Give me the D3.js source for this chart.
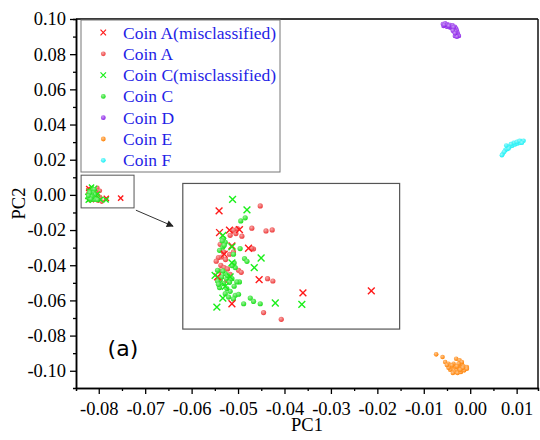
<!DOCTYPE html>
<html>
<head>
<meta charset="utf-8">
<script src="https://cdn.jsdelivr.net/npm/d3@7"></script>
<style>
  html, body { margin: 0; padding: 0; background: #fff; }
  svg { display: block; }
</style>
</head>
<body>
<div id="chart"></div>
<script>
// PCA scatter: coins A-F, inset zoom on the A/C cluster

const xDomain = [-0.0849, 0.0146];
const yDomain = [-0.1098, 0.10];
const xTicks = [-0.08, -0.07, -0.06, -0.05, -0.04, -0.03, -0.02, -0.01, 0, 0.01];
const xMinor = [-0.075, -0.065, -0.055, -0.045, -0.035, -0.025, -0.015, -0.005, 0.005];
const yTicks = [-0.10, -0.08, -0.06, -0.04, -0.02, 0, 0.02, 0.04, 0.06, 0.08, 0.10];
const yMinor = [-0.09, -0.07, -0.05, -0.03, -0.01, 0.01, 0.03, 0.05, 0.07, 0.09];

// [PC1, PC2]
const coinAmis = [
  [-0.08216, 0.00362], [-0.08214, 0.00213], [-0.08169, 0.00229], [-0.08124, 0.00233],
  [-0.08083, 0.00105], [-0.08158, 0.00121], [-0.08035, -0.00110], [-0.07837, -0.00202],
  [-0.07528, -0.00188], [-0.08158, -0.00276], [-0.08223, -0.00092], [-0.08193, 0.00064]
];
const coinA = [
  [-0.08030, 0.00396], [-0.08068, 0.00243], [-0.08004, 0.00224], [-0.07976, 0.00231],
  [-0.08113, 0.00188], [-0.08151, 0.00229], [-0.08140, 0.00206], [-0.08166, 0.00194],
  [-0.08133, 0.00240], [-0.08060, 0.00100], [-0.08069, 0.00105], [-0.08219, 0.00041],
  [-0.08229, 0.00016], [-0.08204, 0.00045], [-0.08187, 0.00027], [-0.08208, -0.00012],
  [-0.08193, -0.00028], [-0.08178, -0.00037], [-0.08128, -0.00046], [-0.08116, -0.00060],
  [-0.07997, -0.00104], [-0.07973, -0.00120], [-0.08015, -0.00337], [-0.07935, -0.00383],
  [-0.08214, -0.00051], [-0.08169, 0.00064], [-0.08151, 0.00080], [-0.08196, 0.00080],
  [-0.08181, -0.00115], [-0.08211, 0.00132], [-0.08166, -0.00074]
];
const coinCmis = [
  [-0.08155, 0.00440], [-0.08090, 0.00369], [-0.08199, 0.00194], [-0.08158, 0.00114],
  [-0.08026, 0.00038], [-0.08057, -0.00028], [-0.08234, -0.00081], [-0.08166, -0.00092],
  [-0.08199, -0.00237], [-0.08226, -0.00299], [-0.07962, -0.00271], [-0.07842, -0.00280],
  [-0.08158, 0.00004], [-0.08188, -0.00156]
];
const coinC = [
  [-0.08118, 0.00293], [-0.08098, 0.00314], [-0.08196, 0.00171], [-0.08188, 0.00146],
  [-0.08199, 0.00114], [-0.08214, 0.00091], [-0.08121, 0.00103], [-0.08151, 0.00064],
  [-0.08101, 0.00034], [-0.08090, 0.00015], [-0.08148, 0.00004], [-0.08143, -0.00028],
  [-0.08158, -0.00014], [-0.08211, -0.00115], [-0.08196, -0.00138], [-0.08181, -0.00106],
  [-0.08204, -0.00092], [-0.08188, -0.00069], [-0.08169, -0.00129], [-0.08148, -0.00156],
  [-0.08124, -0.00126], [-0.08166, -0.00191], [-0.08143, -0.00218], [-0.08128, -0.00211],
  [-0.08151, -0.00243], [-0.08105, -0.00276], [-0.08075, -0.00237], [-0.08060, -0.00260],
  [-0.08030, -0.00276], [-0.08181, -0.00172], [-0.08223, -0.00120], [-0.08214, -0.00165],
  [-0.08199, -0.00051], [-0.08178, -0.00081], [-0.08219, -0.00143], [-0.08202, 0.00156],
  [-0.08193, 0.00126], [-0.08136, -0.00126], [-0.08158, -0.00104], [-0.08188, -0.00207],
  [-0.08173, -0.00230], [-0.08223, -0.00046]
];
const coinD = [
  [-0.00589, 0.09715], [-0.00539, 0.09753], [-0.00489, 0.09697], [-0.00431, 0.09659],
  [-0.00381, 0.09640], [-0.00330, 0.09563], [-0.00302, 0.09450], [-0.00287, 0.09336],
  [-0.00273, 0.09222], [-0.00259, 0.09108], [-0.00244, 0.09032], [-0.00575, 0.09602],
  [-0.00503, 0.09563], [-0.00445, 0.09526], [-0.00395, 0.09469], [-0.00345, 0.09412],
  [-0.00316, 0.09279], [-0.00302, 0.09146], [-0.00330, 0.09032], [-0.00287, 0.08994],
  [-0.00517, 0.09659], [-0.00417, 0.09563], [-0.00359, 0.09526], [-0.00460, 0.09602],
  [-0.00560, 0.09659], [-0.00374, 0.09336], [-0.00330, 0.09184]
];
const coinE = [
  [-0.00733, -0.09067], [-0.00596, -0.09218], [-0.00539, -0.09503], [-0.00467, -0.09598],
  [-0.00431, -0.09750], [-0.00395, -0.09883], [-0.00359, -0.09977], [-0.00323, -0.10072],
  [-0.00287, -0.09939], [-0.00251, -0.09826], [-0.00216, -0.09693], [-0.00180, -0.09598],
  [-0.00144, -0.09750], [-0.00108, -0.09826], [-0.00072, -0.09788], [-0.00302, -0.09313],
  [-0.00230, -0.09408], [-0.00180, -0.09503], [-0.00431, -0.09939], [-0.00374, -0.10129],
  [-0.00273, -0.10129], [-0.00201, -0.10072], [-0.00129, -0.09977], [-0.00072, -0.09883],
  [-0.00323, -0.09750], [-0.00251, -0.09598], [-0.00359, -0.09598], [-0.00395, -0.09693],
  [-0.00158, -0.09826], [-0.00467, -0.09826], [-0.00503, -0.09674], [-0.00216, -0.09939],
  [-0.00287, -0.09750]
];
const coinF = [
  [0.00704, 0.02354], [0.00754, 0.02544], [0.00805, 0.02696], [0.00862, 0.02810],
  [0.00920, 0.02886], [0.00977, 0.02961], [0.01042, 0.03018], [0.01099, 0.03056],
  [0.01149, 0.03075], [0.00733, 0.02449], [0.00790, 0.02601], [0.00848, 0.02734],
  [0.00905, 0.02791], [0.00963, 0.02867], [0.01020, 0.02924], [0.01078, 0.02961],
  [0.00826, 0.02639], [0.00934, 0.02961], [0.01006, 0.03018], [0.01063, 0.03075],
  [0.00776, 0.02810], [0.00682, 0.02259], [0.01114, 0.02961], [0.00876, 0.02886]
];

const seriesNames = ["Coin A(misclassified)", "Coin A", "Coin C(misclassified)", "Coin C", "Coin D", "Coin E", "Coin F"];
const seriesData = [coinAmis, coinA, coinCmis, coinC, coinD, coinE, coinF];
const seriesColors = ["#ff1a1a", "#ee3b3b", "#1aef1a", "#19e019", "#8a1ee8", "#ff8000", "#19f0f5"];
const seriesShapes = ["cross", "dot", "cross", "dot", "dot", "dot", "dot"];

// zoom window (data) and where the inset sits (data units of the main axes)
const zoomBox = [-0.0838, -0.0724, -0.0074, 0.0112];
const insetBox = [-0.0619, -0.0152, -0.0763, 0.0065];
const insetX = [-0.0838, -0.0740];
const insetY = [-0.0045, 0.0055];
const arrowFrom = [-0.0720, -0.0087];
const arrowTo = [-0.0640, -0.0178];
const panelLabel = { text: "(a)", x: -0.0748, y: -0.0918 };

const W = 540, H = 440;
const margin = { top: 19, right: 2, bottom: 52, left: 76 };
const serif = "'Liberation Serif', 'Times New Roman', serif";

const svg = d3.select("#chart").append("svg")
  .attr("width", W).attr("height", H);

const defs = svg.append("defs");
seriesColors.forEach((c, i) => {
  const gr = defs.append("radialGradient")
    .attr("id", "ball" + i)
    .attr("cx", "40%").attr("cy", "35%").attr("r", "65%");
  gr.append("stop").attr("offset", "0%").attr("stop-color", d3.interpolateRgb(c, "#fff")(0.55));
  gr.append("stop").attr("offset", "100%").attr("stop-color", c);
});
defs.append("marker")
  .attr("id", "arrowhead")
  .attr("viewBox", "0 0 10 10")
  .attr("refX", 9).attr("refY", 5)
  .attr("markerWidth", 9).attr("markerHeight", 7)
  .attr("markerUnits", "userSpaceOnUse")
  .attr("orient", "auto")
  .append("path").attr("d", "M0,0 L10,5 L0,10 z").attr("fill", "#222");

const x = d3.scaleLinear().domain(xDomain).range([margin.left, W - margin.right]);
const y = d3.scaleLinear().domain(yDomain).range([H - margin.bottom, margin.top]);

function drawMarks(g, sx, sy, i, r, c) {
  const data = seriesData[i];
  if (seriesShapes[i] === "cross") {
    g.append("g").selectAll("path").data(data).join("path")
      .attr("d", d => {
        const px = sx(d[0]), py = sy(d[1]);
        return `M${px - c},${py - c}L${px + c},${py + c}M${px - c},${py + c}L${px + c},${py - c}`;
      })
      .attr("stroke", seriesColors[i])
      .attr("stroke-width", 1.4)
      .attr("fill", "none");
  } else {
    g.append("g").selectAll("circle").data(data).join("circle")
      .attr("cx", d => sx(d[0]))
      .attr("cy", d => sy(d[1]))
      .attr("r", r)
      .attr("fill", `url(#ball${i})`);
  }
}

// frame
const x0 = x(xDomain[0]), x1 = x(xDomain[1]), y0 = y(yDomain[0]), y1 = y(yDomain[1]);
svg.append("line").attr("x1", x0).attr("x2", x1).attr("y1", y1).attr("y2", y1)
  .attr("stroke", "#3a3a3a").attr("stroke-width", 2);
svg.append("line").attr("x1", x1).attr("x2", x1).attr("y1", y1).attr("y2", y0)
  .attr("stroke", "#111").attr("stroke-width", 1.5);

// axes
function styleAxis(g) {
  g.attr("font-family", serif).attr("font-size", 18.5);
  g.select(".domain").attr("stroke", "#000").attr("stroke-width", 1.5);
  g.selectAll(".tick line").attr("stroke", "#000").attr("stroke-width", 1.3);
  g.selectAll(".tick text").attr("fill", "#000");
}

const fmt = d => d.toFixed(2);

svg.append("g").attr("transform", `translate(0,${y0})`)
  .call(d3.axisBottom(x).tickValues(xMinor).tickSize(3).tickFormat(""))
  .call(styleAxis);
svg.append("g").attr("transform", `translate(0,${y0})`)
  .call(d3.axisBottom(x).tickValues(xTicks).tickSize(6).tickPadding(8).tickFormat(fmt).tickSizeOuter(0))
  .call(styleAxis);

svg.append("g").attr("transform", `translate(${x0},0)`)
  .call(d3.axisLeft(y).tickValues(yMinor).tickSize(3).tickFormat(""))
  .call(styleAxis);
svg.append("g").attr("transform", `translate(${x0},0)`)
  .call(d3.axisLeft(y).tickValues(yTicks).tickSize(6).tickPadding(4).tickFormat(fmt).tickSizeOuter(0))
  .call(styleAxis);

svg.append("text")
  .attr("x", (x0 + x1) / 2).attr("y", 431)
  .attr("text-anchor", "middle")
  .attr("font-family", serif).attr("font-size", 18.5)
  .text("PC1");
svg.append("text")
  .attr("transform", `translate(25,${(y0 + y1) / 2}) rotate(-90)`)
  .attr("text-anchor", "middle")
  .attr("font-family", serif).attr("font-size", 18.5)
  .text("PC2");

// main marks
const main = svg.append("g");
seriesData.forEach((d, i) => drawMarks(main, x, y, i, 2.3, 2.6));

// zoom window + arrow
svg.append("rect")
  .attr("x", x(zoomBox[0])).attr("y", y(zoomBox[3]))
  .attr("width", x(zoomBox[1]) - x(zoomBox[0]))
  .attr("height", y(zoomBox[2]) - y(zoomBox[3]))
  .attr("fill", "none").attr("stroke", "#555").attr("stroke-width", 1);

svg.append("line")
  .attr("x1", x(arrowFrom[0])).attr("y1", y(arrowFrom[1]))
  .attr("x2", x(arrowTo[0])).attr("y2", y(arrowTo[1]))
  .attr("stroke", "#333").attr("stroke-width", 1)
  .attr("marker-end", "url(#arrowhead)");

// inset
const ix = d3.scaleLinear().domain(insetX).range([x(insetBox[0]), x(insetBox[1])]);
const iy = d3.scaleLinear().domain(insetY).range([y(insetBox[2]), y(insetBox[3])]);
const inset = svg.append("g");
inset.append("rect")
  .attr("x", x(insetBox[0])).attr("y", y(insetBox[3]))
  .attr("width", x(insetBox[1]) - x(insetBox[0]))
  .attr("height", y(insetBox[2]) - y(insetBox[3]))
  .attr("fill", "#fff").attr("stroke", "#555").attr("stroke-width", 1.2);
[1, 3, 0, 2].forEach(i => drawMarks(inset, ix, iy, i, 2.6, 3.4));

// legend
const legend = svg.append("g").attr("transform", "translate(81,20)");
legend.append("rect")
  .attr("width", 199).attr("height", 152)
  .attr("fill", "#fff").attr("stroke", "#777").attr("stroke-width", 1);
seriesNames.forEach((name, i) => {
  const row = legend.append("g").attr("transform", `translate(0,${12.5 + i * 21.3})`);
  if (seriesShapes[i] === "cross") {
    row.append("path").attr("d", "M19.5,-2.8L25,2.8M19.5,2.8L25,-2.8")
      .attr("stroke", seriesColors[i]).attr("stroke-width", 1.2);
  } else {
    row.append("circle").attr("cx", 22.3).attr("cy", 0).attr("r", 2.4)
      .attr("fill", `url(#ball${i})`);
  }
  row.append("text")
    .attr("x", 42).attr("y", 6)
    .attr("font-family", serif).attr("font-size", 17.5)
    .attr("fill", "#1f1fe6")
    .text(name);
});

svg.append("text")
  .attr("x", x(panelLabel.x)).attr("y", y(panelLabel.y))
  .attr("text-anchor", "middle")
  .attr("font-family", "'DejaVu Sans', sans-serif").attr("font-size", 22)
  .text(panelLabel.text);
</script>
</body>
</html>
